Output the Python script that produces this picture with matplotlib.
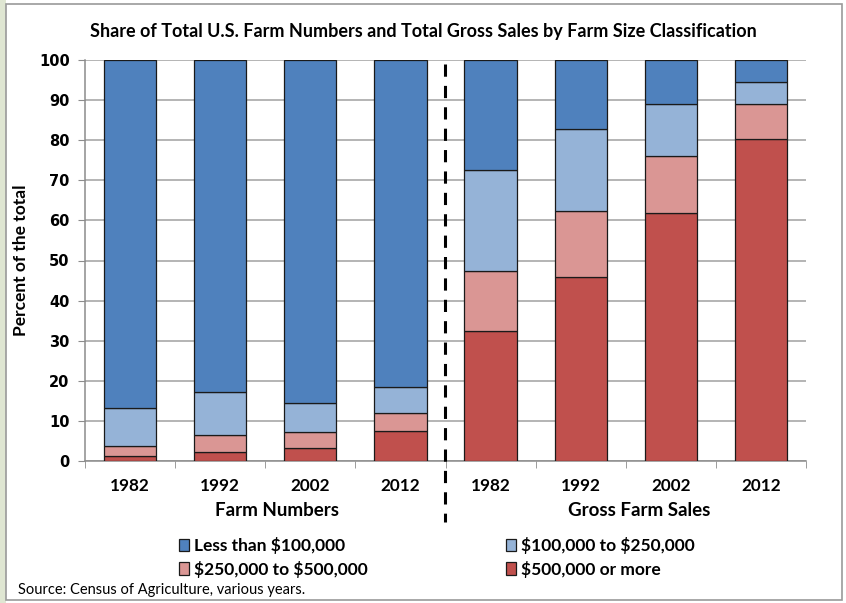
import matplotlib
matplotlib.use('Agg')
from matplotlib import pyplot
from matplotlib.patches import Patch, Rectangle
from matplotlib.lines import Line2D

# data (percent of total)
years = ['1982', '1992', '2002', '2012']
groups = ['Farm Numbers', 'Gross Farm Sales']
classes = ['Less than $100,000', '$100,000 to $250,000',
           '$250,000 to $500,000', '$500,000 or more']

numbers_500k_plus = [1.2, 2.2, 3.2, 7.4]
numbers_250_500k = [2.6, 4.2, 4.0, 4.5]
numbers_100_250k = [9.5, 10.8, 7.3, 6.6]
numbers_under_100k = [86.7, 82.8, 85.5, 81.5]

sales_500k_plus = [32.4, 46.0, 61.8, 80.3]
sales_250_500k = [15.1, 16.3, 14.3, 8.7]
sales_100_250k = [25.1, 20.4, 12.9, 5.6]
sales_under_100k = [27.4, 17.3, 11.0, 5.4]

colors = {
    classes[0]: '#4F81BD',
    classes[1]: '#95B3D7',
    classes[2]: '#DA9694',
    classes[3]: '#C0504D',
}

pyplot.rcParams['font.family'] = ['Lato', 'DejaVu Sans']
pyplot.rcParams['text.parse_math'] = False  # labels contain dollar signs

figure = pyplot.figure(figsize=(8.46, 6.03), dpi=100)
axes = figure.add_axes([85/846, 142/603, 721/846, 401/603])

# stack from bottom: largest farms first
stacks = [
    (classes[3], numbers_500k_plus + sales_500k_plus),
    (classes[2], numbers_250_500k + sales_250_500k),
    (classes[1], numbers_100_250k + sales_100_250k),
    (classes[0], numbers_under_100k + sales_under_100k),
]
positions = list(range(len(years) * 2))
bottom = [0.0] * len(positions)
for name, values in stacks:
    axes.bar(positions, values, 0.58, bottom=bottom, color=colors[name],
             edgecolor='#1a1a1a', linewidth=0.9, zorder=3)
    bottom = [b + v for b, v in zip(bottom, values)]

axes.set_xlim(-0.5, 7.5)
axes.set_ylim(0, 100)
axes.set_yticks(range(0, 101, 10))
axes.set_yticklabels([str(v) for v in range(0, 101, 10)],
                     family='DejaVu Sans', fontweight='bold', fontsize=10.5)
axes.set_xticks(positions)
axes.set_xticklabels(years + years, fontweight='bold', fontsize=12.3)
axes.set_xticks([p - 0.5 for p in range(9)], minor=True)
axes.tick_params(axis='x', which='major', length=0, pad=12)
axes.tick_params(axis='x', which='minor', length=5, color='#8c8c8c')
axes.tick_params(axis='y', length=5, color='#8c8c8c', pad=6)
axes.grid(axis='y', color='#a0a0a0', linewidth=1.1, zorder=0)
for side in ['top', 'right']:
    axes.spines[side].set_visible(False)
for side in ['left', 'bottom']:
    axes.spines[side].set_color('#8c8c8c')
    axes.spines[side].set_linewidth(1.1)
axes.set_ylabel('Percent of the total', fontweight='bold', fontsize=12.5, labelpad=7)

figure.text(423/846, 1 - 32/603, 'Share of Total U.S. Farm Numbers and Total Gross Sales by Farm Size Classification',
            ha='center', va='center', fontweight='bold', fontsize=13)
figure.text(277/846, 1 - 511/603, groups[0], ha='center', va='center',
            fontweight='bold', fontsize=13.5)
figure.text(639/846, 1 - 511/603, groups[1], ha='center', va='center',
            fontweight='bold', fontsize=13.5)

# dashed divider between the two groups
figure.add_artist(Line2D([445/846, 445/846], [1 - 64/603, 1 - 522/603],
                         color='black', linewidth=2.2, linestyle=(0, (4, 3))))

# legend, two columns placed separately
def handle(name):
    return Patch(facecolor=colors[name], edgecolor='#1a1a1a', linewidth=0.9)

for names, x in [([classes[0], classes[2]], 170/846), ([classes[1], classes[3]], 497/846)]:
    figure.legend([handle(n) for n in names], names, loc='upper left',
                  bbox_to_anchor=(x, 1 - 528/603), frameon=False,
                  prop={'weight': 'bold', 'size': 12.5},
                  handlelength=0.6, handleheight=0.7, handletextpad=0.3,
                  labelspacing=0.4, borderpad=0)

figure.text(18/846, 1 - 590/603, 'Source: Census of Agriculture, various years.',
            ha='left', va='center', fontsize=10.5)

# outer frame and the faint green edge at the left
figure.add_artist(Rectangle((0, 0), 6/846, 1, transform=figure.transFigure,
                            facecolor='#dfe6d2', edgecolor='none'))
figure.add_artist(Rectangle((6/846, 3/603), 836/846, 596/603, transform=figure.transFigure,
                            facecolor='none', edgecolor='#9a9a9a', linewidth=1.2))

figure.savefig('out.png', dpi=100)
